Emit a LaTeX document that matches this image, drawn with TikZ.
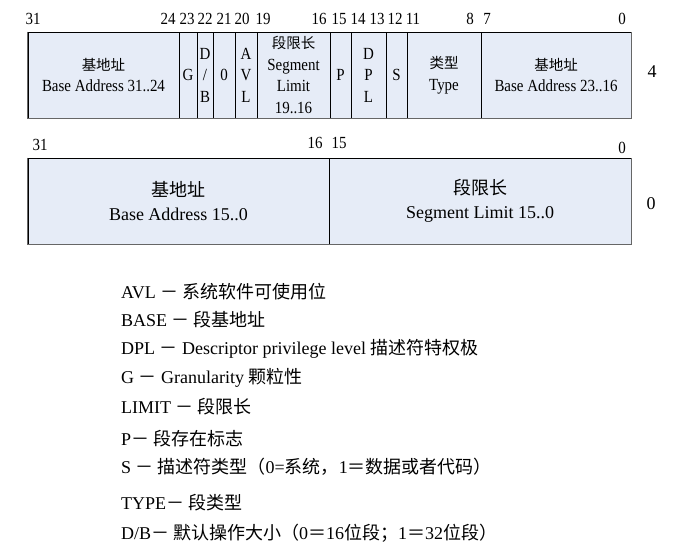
\documentclass[tikz,border=0pt]{standalone}
\usepackage{fontspec}
\setmainfont{Liberation Serif}
\newfontfamily\fieldfont{Liberation Serif}[FakeStretch=0.88]
\newfontfamily\cjk{Noto Sans CJK SC}
\newcommand\fieldcjk[1]{{\cjk\fontsize{14.5}{21.5}\selectfont #1}}
\definecolor{fieldblue}{RGB}{230,236,247}
\tikzset{
  field/.style={draw=black, line width=0.8pt, fill=fieldblue, minimum height=86,
    inner sep=0pt, align=center, font=\fieldfont\fontsize{17}{21.5}\selectfont},
  wide/.style={field, font=\fontsize{18}{24}\selectfont},
  frame/.style={draw=black!60, line width=1.6pt},
  bitnum/.style={inner sep=0pt, font=\fieldfont\fontsize{17}{18}\selectfont},
  legend/.style={anchor=west, inner sep=0pt, font=\fontsize{18}{22}\selectfont}
}
\begin{document}
\begin{tikzpicture}[x=1pt,y=-1pt]
   \useasboundingbox (0,0) rectangle (686,558);
   % high doubleword
   \node[field, minimum width=151] (baseh) at (103.5,75) {\fieldcjk{基地址}\\Base Address 31..24};
   \node[field, minimum width=18]  (gran)  at (188,75)   {G};
   \node[field, minimum width=16]  (db)    at (205,75)   {D\\/\\B};
   \node[field, minimum width=22]  (zero)  at (224,75)   {0};
   \node[field, minimum width=22]  (avl)   at (246,75)   {A\\V\\L};
   \node[field, minimum width=73]  (limh)  at (293.5,75) {\fieldcjk{段限长}\\Segment\\Limit\\19..16};
   \node[field, minimum width=21]  (pres)  at (340.5,75) {P};
   \node[field, minimum width=35]  (dpl)   at (368.5,75) {D\\P\\L};
   \node[field, minimum width=21]  (sys)   at (396.5,75) {S};
   \node[field, minimum width=74]  (type)  at (444,75)   {\fieldcjk{类型}\\Type};
   \node[field, minimum width=150] (basem) at (556,75)   {\fieldcjk{基地址}\\Base Address 23..16};
   \draw[frame] (baseh.north west) -- (baseh.south west) -- (basem.south east) -- (basem.north east);
   \foreach \x/\n in {33/31,168/24,187/23,205/22,224/21,242/20,263/19,319/16,
                      339/15,358/14,377/13,395/12,413/11,470/8,487/7,622/0}
     \node[bitnum] (t\n) at (\x,19) {\n};
   \node[bitnum, font=\fontsize{18}{20}\selectfont] (off4) at (652,72) {4};
   % low doubleword
   \node[wide, minimum width=301] (basel) at (178.5,201) {{\cjk 基地址}\\Base Address 15..0};
   \node[wide, minimum width=302] (liml) at (480,201) {{\cjk 段限长}\\Segment Limit 15..0};
   \draw[frame] (basel.north west) -- (basel.south west) -- (liml.south east) -- (liml.north east);
   \foreach \x/\y/\n in {40/145/31,315/143/16,339/143/15,622/148/0}
     \node[bitnum] (u\n) at (\x,\y) {\n};
   \node[bitnum, font=\fontsize{18}{20}\selectfont] (off0) at (651,204) {0};
   % abbreviations
   \node[legend] (avlnote)   at (121,292) {AVL {\cjk － 系统软件可使用位}};
   \node[legend] (basenote)  at (121,320) {BASE {\cjk － 段基地址}};
   \node[legend] (dplnote)   at (121,349) {DPL {\cjk －} Descriptor privilege level {\cjk 描述符特权极}};
   \node[legend] (gnote)     at (121,378) {G {\cjk －} Granularity {\cjk 颗粒性}};
   \node[legend] (limitnote) at (121,407) {LIMIT {\cjk － 段限长}};
   \node[legend] (pnote)     at (121,439) {P{\cjk － 段存在标志}};
   \node[legend] (snote)     at (121,467) {S {\cjk － 描述符类型（}0={\cjk 系统，}1{\cjk ＝数据或者代码）}};
   \node[legend] (typenote)  at (121,503) {TYPE{\cjk － 段类型}};
   \node[legend] (dbnote)    at (121,533) {D/B{\cjk － 默认操作大小（}0{\cjk ＝}16{\cjk 位段；}1{\cjk ＝}32{\cjk 位段）}};
\end{tikzpicture}
\end{document}
